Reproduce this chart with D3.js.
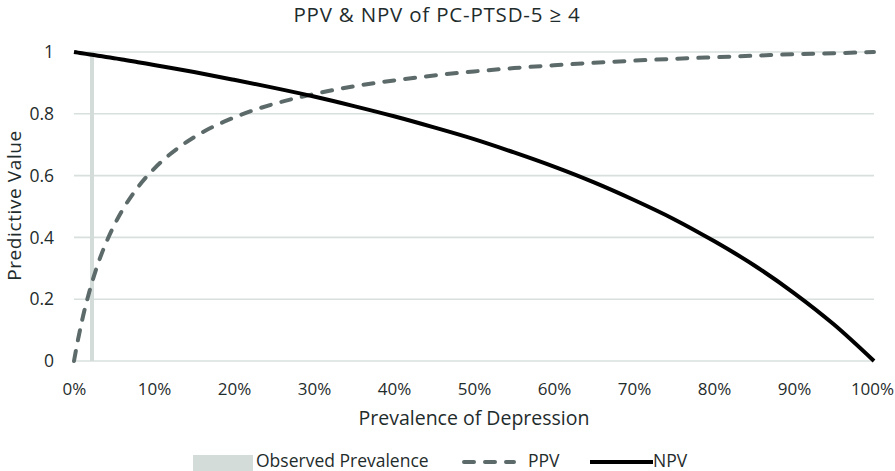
<!DOCTYPE html>
<html>
<head>
<meta charset="utf-8">
<script src="https://cdn.jsdelivr.net/npm/d3@7"></script>
<style>
  body { margin: 0; background: #fff; }
  svg { display: block; font-family: "Open Sans", sans-serif; }
  .tick text { fill: #1f2c2c; }
</style>
</head>
<body>
<svg id="chart" width="895" height="471"></svg>
<script>
// Prevalence points (fraction)
const prevalence = [0, 0.005, 0.01, 0.02, 0.03, 0.04, 0.05, 0.06, 0.08, 0.10, 0.12, 0.15,
  0.20, 0.25, 0.30, 0.35, 0.40, 0.45, 0.50, 0.55, 0.60, 0.65, 0.70, 0.75, 0.80, 0.85, 0.90, 0.95, 1];
// Positive predictive value
const ppv = [0, 0.069, 0.130, 0.232, 0.315, 0.382, 0.438, 0.486, 0.563, 0.622, 0.669, 0.724,
  0.788, 0.832, 0.864, 0.889, 0.908, 0.924, 0.937, 0.948, 0.957, 0.965, 0.972, 0.978, 0.983, 0.988, 0.993, 0.996, 1];
// Negative predictive value
const npv = [1, 0.998, 0.996, 0.992, 0.988, 0.984, 0.980, 0.976, 0.967, 0.958, 0.949, 0.935,
  0.910, 0.884, 0.856, 0.825, 0.792, 0.756, 0.718, 0.675, 0.629, 0.578, 0.521, 0.459, 0.388, 0.310, 0.220, 0.118, 0];
// Observed prevalence marker
const observedPrevalence = 0.0225;
const xTicks = [0, 0.1, 0.2, 0.3, 0.4, 0.5, 0.6, 0.7, 0.8, 0.9, 1];
const yTicks = [0, 0.2, 0.4, 0.6, 0.8, 1];

const textColor = '#1f2c2c';
const gridColor = '#d8e0dd';
const obsColor = '#d3dcd9';
const ppvColor = '#5d6a6a';

const svg = d3.select('#chart');

const x = d3.scaleLinear().domain([0, 1]).range([74, 874]);
const y = d3.scaleLinear().domain([0, 1]).range([361, 52]);

// Title
svg.append('text')
  .attr('x', 437).attr('y', 22)
  .attr('text-anchor', 'middle')
  .attr('font-size', 20.5)
  .attr('letter-spacing', 0.8)
  .attr('fill', textColor)
  .text('PPV & NPV of PC-PTSD-5 ≥ 4');

// Horizontal gridlines
svg.append('g')
  .selectAll('line')
  .data(yTicks)
  .join('line')
  .attr('x1', x(0)).attr('x2', x(1))
  .attr('y1', d => y(d)).attr('y2', d => y(d))
  .attr('stroke', gridColor)
  .attr('stroke-width', 1.6);

// Axes (labels only)
const yAxis = svg.append('g')
  .attr('transform', `translate(${x(0) - 17},0)`)
  .call(d3.axisLeft(y).tickValues(yTicks).tickSize(0).tickFormat(d => String(+d.toFixed(1))));
yAxis.select('.domain').remove();
yAxis.selectAll('text').attr('font-size', 17.5).attr('font-family', '"Open Sans", sans-serif');

const xAxis = svg.append('g')
  .attr('transform', `translate(0,${y(0) + 19})`)
  .call(d3.axisBottom(x).tickValues(xTicks).tickSize(0).tickFormat(d3.format('.0%')));
xAxis.select('.domain').remove();
xAxis.selectAll('text').attr('font-size', 17).attr('font-family', '"Open Sans", sans-serif');
xAxis.selectAll('.tick').filter(d => d === 1).select('text').attr('dx', -2);

// Axis titles
svg.append('text')
  .attr('x', x(0.5)).attr('y', 425)
  .attr('text-anchor', 'middle')
  .attr('font-size', 19.5)
  .attr('fill', textColor)
  .text('Prevalence of Depression');

svg.append('text')
  .attr('transform', `translate(21,${y(0.5) - 1}) rotate(-90)`)
  .attr('text-anchor', 'middle')
  .attr('font-size', 19)
  .attr('letter-spacing', 0.6)
  .attr('fill', textColor)
  .text('Predictive Value');

// Observed prevalence line
svg.append('line')
  .attr('x1', x(observedPrevalence)).attr('x2', x(observedPrevalence))
  .attr('y1', y(0)).attr('y2', y(1))
  .attr('stroke', obsColor)
  .attr('stroke-width', 4);

const line = vals => d3.line()
  .x((d, i) => x(prevalence[i]))
  .y(d => y(d))
  .curve(d3.curveMonotoneX)(vals);

// PPV
svg.append('path')
  .attr('d', line(ppv))
  .attr('fill', 'none')
  .attr('stroke', ppvColor)
  .attr('stroke-width', 4)
  .attr('stroke-linecap', 'round')
  .attr('stroke-dasharray', '10 11');

// NPV
svg.append('path')
  .attr('d', line(npv))
  .attr('fill', 'none')
  .attr('stroke', '#000')
  .attr('stroke-width', 4);

// Legend
const legend = svg.append('g').attr('font-size', 17.5).attr('fill', textColor);
legend.append('rect')
  .attr('x', 193).attr('y', 455).attr('width', 60).attr('height', 16)
  .attr('fill', obsColor);
legend.append('text').attr('x', 256).attr('y', 467).text('Observed Prevalence');
legend.append('line')
  .attr('x1', 464).attr('x2', 514).attr('y1', 462).attr('y2', 462)
  .attr('stroke', ppvColor).attr('stroke-width', 4)
  .attr('stroke-linecap', 'round').attr('stroke-dasharray', '10 11');
legend.append('text').attr('x', 528).attr('y', 467).text('PPV');
legend.append('line')
  .attr('x1', 590).attr('x2', 653).attr('y1', 462).attr('y2', 462)
  .attr('stroke', '#000').attr('stroke-width', 4);
legend.append('text').attr('x', 653).attr('y', 467).text('NPV');
</script>
</body>
</html>
